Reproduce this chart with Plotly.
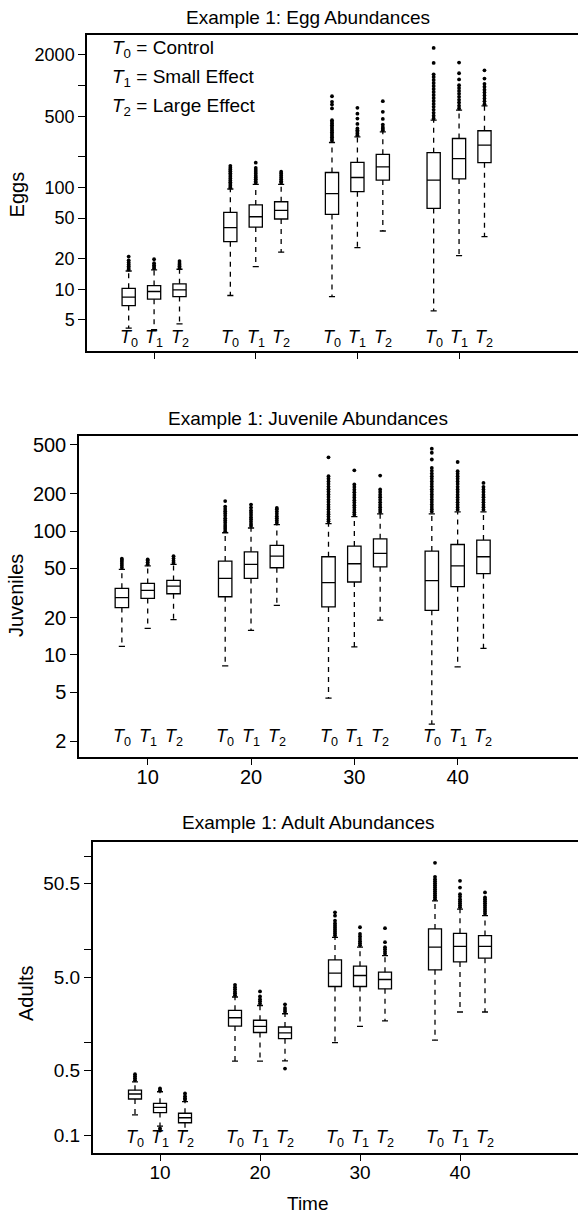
import plotly.graph_objects as go

times = [10, 20, 30, 40]
treat_idx = [0, 1, 2]
offsets = [-2.5, 0.0, 2.5]

legend_lines = ["Control", "Small Effect", "Large Effect"]
titles = ["Example 1: Egg Abundances", "Example 1: Juvenile Abundances", "Example 1: Adult Abundances"]
ylabels = ["Eggs", "Juveniles", "Adults"]

# ---- Eggs (order: t10 T0,T1,T2, t20 T0,T1,T2, ...)
egg_lo = [4.15, 4.0, 4.57, 8.67, 16.7, 23.1, 8.47, 25.6, 37.3, 6.13, 21.4, 32.8]
egg_q1 = [6.9, 7.98, 8.47, 29.3, 40.8, 48.9, 54.3, 90.7, 118, 62.2, 121, 175]
egg_med = [8.35, 9.5, 9.85, 40.3, 51.5, 59.5, 86.7, 125, 159, 118, 192, 260]
egg_q3 = [10.2, 10.86, 11.3, 56.9, 67.2, 72.3, 140, 176, 211, 219, 302, 360]
egg_hi = [15.1, 15.5, 15.7, 96.4, 107, 107, 276, 314, 351, 457, 573, 631]
egg_out_hi = [
    [15.6, 16.2, 16.8, 17.5, 18.3, 19.2, 20.9],
    [16.0, 16.6, 17.2, 18.0, 19.7],
    [16.2, 16.8, 17.4, 18.1, 18.9],
    [100, 104, 108, 112, 117, 122, 127, 132, 138, 144, 150, 156, 163],
    [111, 115, 120, 125, 130, 136, 142, 148, 155, 175],
    [111, 115, 120, 125, 131, 137, 142.6],
    [287, 298, 310, 322, 335, 348, 362, 377, 392, 408, 425, 441, 457, 596, 650, 692, 785],
    [326, 339, 352, 365, 379, 420, 474, 530, 604],
    [364, 377, 392, 414, 470, 552, 702],
    [475, 505, 540, 578, 618, 660, 705, 755, 808, 865, 925, 990, 1060, 1135, 1215, 1290, 1667, 2340],
    [595, 635, 680, 725, 775, 830, 885, 945, 1007, 1150, 1321, 1680],
    [655, 700, 748, 800, 855, 912, 975, 1040, 1172, 1412],
]
egg_out_lo = [[] for _ in range(12)]

# ---- Juveniles
juv_lo = [11.7, 16.4, 19.3, 8.15, 15.8, 25.1, 4.47, 11.6, 19.1, 2.76, 8.0, 11.3]
juv_q1 = [24.1, 28.6, 31.2, 29.5, 41.5, 50.6, 24.4, 38.8, 51.5, 22.9, 35.6, 45.3]
juv_med = [29, 33.2, 36, 41.5, 53.8, 62.8, 38.3, 54.5, 66, 39.8, 52.3, 62.1]
juv_q3 = [34.5, 37.8, 40, 57.3, 68.1, 76.6, 62.1, 75.7, 86.7, 69, 78, 84.6]
juv_hi = [49.1, 52.3, 53.8, 97, 106, 113, 115, 131, 138, 138, 143, 143]
juv_out_hi = [
    [50.5, 52.5, 54.5, 56.6, 58.5, 59.8],
    [54, 56, 58, 59.1],
    [55.5, 57.5, 60, 62.8],
    [100, 104, 108, 112, 117, 122, 127, 133, 139, 145, 151, 158, 175],
    [110, 114, 119, 124, 129, 135, 141, 147, 155, 164],
    [117, 122, 127, 132, 138, 144, 150, 154],
    [120, 125, 131, 137, 143, 150, 157, 164, 172, 180, 189, 198, 208, 218, 229, 240, 252, 265, 278, 395],
    [136, 142, 148, 155, 162, 170, 178, 187, 196, 206, 216, 227, 238, 310],
    [143, 149, 156, 163, 171, 179, 188, 197, 207, 217, 281],
    [144, 150, 157, 164, 172, 180, 189, 198, 208, 218, 229, 240, 252, 265, 278, 292, 307, 324, 379, 430, 464],
    [149, 156, 163, 171, 179, 188, 197, 207, 217, 228, 240, 252, 265, 278, 291, 305, 362],
    [149, 156, 163, 171, 179, 188, 197, 207, 217, 228, 245],
]
juv_out_lo = [[] for _ in range(12)]

# ---- Adults
adu_lo = [0.165, 0.125, 0.111, 0.624, 0.625, 0.628, 0.99, 1.48, 1.69, 1.05, 2.11, 2.11]
adu_q1 = [0.245, 0.175, 0.136, 1.49, 1.27, 1.09, 3.97, 3.97, 3.75, 5.99, 7.3, 8.0]
adu_med = [0.277, 0.199, 0.154, 1.83, 1.48, 1.256, 5.52, 5.21, 4.72, 10.5, 10.7, 10.7]
adu_q3 = [0.305, 0.22, 0.172, 2.2, 1.72, 1.455, 7.67, 6.56, 5.66, 16.5, 14.8, 14.0]
adu_hi = [0.375, 0.293, 0.229, 3.06, 2.48, 2.02, 13.4, 10.5, 8.53, 33.1, 27, 22.9]
adu_out_hi = [
    [0.39, 0.41, 0.43, 0.453],
    [0.305, 0.318],
    [0.24, 0.25, 0.262, 0.281],
    [3.2, 3.35, 3.5, 3.7, 3.9, 4.14],
    [2.6, 2.75, 2.9, 3.1, 3.51],
    [2.12, 2.22, 2.33, 2.55],
    [14.0, 14.7, 15.4, 16.2, 17.0, 17.9, 18.9, 20.2, 22.9, 24.9],
    [11.0, 11.6, 12.2, 12.9, 13.7, 14.6, 17.2],
    [8.9, 9.4, 10.0, 10.5, 11.9, 16.8],
    [34.5, 36.2, 38, 40, 42, 44, 46.3, 48.7, 51, 53.6, 56.5, 60, 84.7],
    [28.3, 29.7, 31.2, 32.8, 34.5, 36.8, 39, 46, 54.3],
    [24, 25.3, 26.6, 28, 29.5, 31.1, 32.8, 34.4, 36, 40.7],
]
adu_out_lo = [[], [0.118, 0.112], [], [], [], [0.52], [], [], [], [], [], []]

# y-axis ticks
egg_ticks = [5, 10, 20, 50, 100, 200, 500, 1000, 2000]
egg_ticktext = ["5", "10", "20", "50", "100", "", "500", "", "2000"]
juv_ticks = [2, 5, 10, 20, 50, 100, 200, 500]
juv_ticktext = ["2", "5", "10", "20", "50", "100", "200", "500"]
adu_ticks = [0.1, 0.5, 1, 5, 10, 50.5, 100]
adu_ticktext = ["0.1", "0.5", "", "5.0", "", "50.5", ""]
x_ticks = [10, 20, 30, 40]

FONT = "Liberation Sans, Arial, Helvetica, sans-serif"
W, H = 578, 1214

positions = [t + o for t in times for o in offsets]
treat_of_box = [k for t in times for k in treat_idx]

fig = go.Figure()

panels = [
    dict(q1=egg_q1, med=egg_med, q3=egg_q3, lo=egg_lo, hi=egg_hi, oh=egg_out_hi, ol=egg_out_lo,
         xa="x", ya="y", left=87, top=33, bottom=350, xr=[3.4, 51.7], yr=[0.389, 3.497],
         ticks=egg_ticks, ticktext=egg_ticktext, tfs=18, showx=False, tlab_y=0.041),
    dict(q1=juv_q1, med=juv_med, q3=juv_q3, lo=juv_lo, hi=juv_hi, oh=juv_out_hi, ol=juv_out_lo,
         xa="x2", ya="y2", left=79, top=434.3, bottom=756, xr=[3.35, 51.65], yr=[0.177, 2.772],
         ticks=juv_ticks, ticktext=juv_ticktext, tfs=20, showx=True, tlab_y=0.06),
    dict(q1=adu_q1, med=adu_med, q3=adu_q3, lo=adu_lo, hi=adu_hi, oh=adu_out_hi, ol=adu_out_lo,
         xa="x3", ya="y3", left=92.7, top=841.7, bottom=1153.3, xr=[3.27, 51.8], yr=[-1.196, 2.149],
         ticks=adu_ticks, ticktext=adu_ticktext, tfs=19, showx=True, tlab_y=0.048),
]

BOXW = 1.3
CAP = 0.3
annotations = []

for i, p in enumerate(panels):
    xa, ya = p["xa"], p["ya"]
    # dashed whiskers
    wx, wy = [], []
    cx, cy = [], []
    for j, x in enumerate(positions):
        wx += [x, x, None, x, x, None]
        wy += [p["q3"][j], p["hi"][j], None, p["q1"][j], p["lo"][j], None]
        cx += [x - CAP, x + CAP, None, x - CAP, x + CAP, None]
        cy += [p["hi"][j], p["hi"][j], None, p["lo"][j], p["lo"][j], None]
    fig.add_trace(go.Scatter(x=wx, y=wy, mode="lines", xaxis=xa, yaxis=ya,
                             line=dict(color="black", width=1.3, dash="5px,5px"),
                             hoverinfo="skip", showlegend=False))
    fig.add_trace(go.Scatter(x=cx, y=cy, mode="lines", xaxis=xa, yaxis=ya,
                             line=dict(color="black", width=1.3),
                             hoverinfo="skip", showlegend=False))
    # boxes
    fig.add_trace(go.Box(x=positions, q1=p["q1"], median=p["med"], q3=p["q3"],
                         lowerfence=p["q1"], upperfence=p["q3"], width=BOXW,
                         whiskerwidth=0, boxpoints=False, fillcolor="white",
                         line=dict(color="black", width=1.3), xaxis=xa, yaxis=ya,
                         showlegend=False, hoverinfo="skip"))
    # outliers
    ox, oy = [], []
    for j, x in enumerate(positions):
        for v in p["oh"][j] + p["ol"][j]:
            ox.append(x)
            oy.append(v)
    fig.add_trace(go.Scatter(x=ox, y=oy, mode="markers", xaxis=xa, yaxis=ya,
                             marker=dict(color="black", size=3.8, symbol="circle"),
                             hoverinfo="skip", showlegend=False))
    # treatment labels under boxes
    for j, x in enumerate(positions):
        annotations.append(dict(x=x, y=p["tlab_y"], xref=xa, yref=ya + " domain",
                                text="<i>T</i><sub>%d</sub>" % treat_of_box[j],
                                showarrow=False, font=dict(family=FONT, size=18, color="black"),
                                xanchor="center", yanchor="middle"))

layout = dict(width=W, height=H, margin=dict(l=0, r=0, t=0, b=0),
              plot_bgcolor="white", paper_bgcolor="white", showlegend=False)

for i, p in enumerate(panels):
    n = "" if i == 0 else str(i + 1)
    layout["xaxis" + n] = dict(
        domain=[p["left"] / W, 1.0], range=p["xr"], tickvals=x_ticks,
        showticklabels=p["showx"], ticks="outside", ticklen=6, tickwidth=1.2, tickcolor="black",
        ticklabelstandoff=-5,
        showline=True, linecolor="black", linewidth=1.5, mirror=True, showgrid=False, zeroline=False,
        tickfont=dict(family=FONT, size=p["tfs"], color="black"), anchor="y" + n)
    layout["yaxis" + n] = dict(
        domain=[1 - p["bottom"] / H, 1 - p["top"] / H], type="log", range=p["yr"],
        tickvals=p["ticks"], ticktext=p["ticktext"], tickmode="array",
        ticks="outside", ticklen=7, tickwidth=1.2, tickcolor="black",
        showline=True, linecolor="black", linewidth=1.5, mirror=False, showgrid=False, zeroline=False,
        tickfont=dict(family=FONT, size=p["tfs"], color="black"), anchor="x" + n)

# panel titles
title_y = [16, 416.7, 821.7]
for i, t in enumerate(titles):
    annotations.append(dict(x=307.5 / W, y=1 - title_y[i] / H, xref="paper", yref="paper",
                            text=t, showarrow=False, xanchor="center", yanchor="middle",
                            font=dict(family=FONT, size=19, color="black")))
# y labels
ylab_pos = [(16.7, 193), (16, 595), (26.7, 993)]
for i, t in enumerate(ylabels):
    annotations.append(dict(x=ylab_pos[i][0] / W, y=1 - ylab_pos[i][1] / H, xref="paper", yref="paper",
                            text=t, showarrow=False, textangle=-90, xanchor="center", yanchor="middle",
                            font=dict(family=FONT, size=20, color="black")))
# x label
annotations.append(dict(x=308 / W, y=1 - 1203 / H, xref="paper", yref="paper", text="Time",
                        showarrow=False, xanchor="center", yanchor="middle",
                        font=dict(family=FONT, size=19, color="black")))
# treatment legend
leg_y = [46.7, 76, 105]
for k, t in enumerate(legend_lines):
    annotations.append(dict(x=110 / W, y=1 - leg_y[k] / H, xref="paper", yref="paper",
                            text="<i>T</i><sub>%d</sub> = %s" % (k, t), showarrow=False,
                            xanchor="left", yanchor="middle",
                            font=dict(family=FONT, size=19, color="black")))

layout["annotations"] = annotations
fig.update_layout(**layout)
fig.write_html("out.html")
